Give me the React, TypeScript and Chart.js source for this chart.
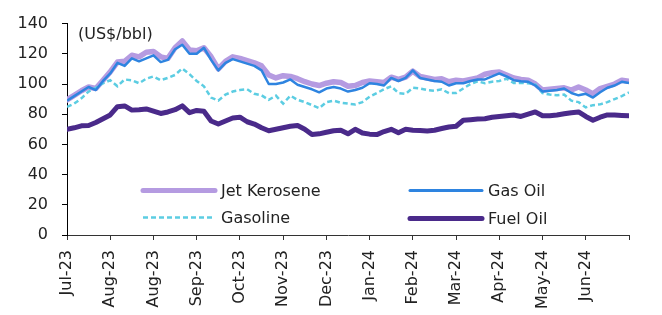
import React, { useEffect, useRef } from "react";
import { Chart, registerables } from "chart.js";

Chart.register(...registerables);

const TICK_LABELS = [
  "Jul-23", "Aug-23", "Aug-23", "Sep-23", "Oct-23", "Nov-23", "Dec-23",
  "Jan-24", "Feb-24", "Mar-24", "Apr-24", "May-24", "Jun-24", "",
];
const POINTS_PER_TICK = 6;

const JET_KEROSENE = [
  89.5, 92.5, 95.5, 98, 97, 102.5, 108, 114.5, 115, 119, 118, 121, 121.5, 118, 117, 124, 128.5, 122.5, 122, 124,
  118, 110, 115, 118, 117, 115.5, 114, 112, 106, 104, 105.5, 105, 103.5, 101.5, 100, 99, 100.5, 101.5, 101, 98.5,
  99, 101, 102, 101.5, 101, 104.5, 103, 104.5, 108.5, 105, 104, 103, 103.5, 101.5, 102.5, 102, 103, 104, 106.5, 107.5,
  108, 106, 104, 103, 102.5, 100, 96, 96.5, 97, 97.5, 96, 98, 96, 93.5, 97, 98.5, 100, 102.5, 101.8,
];
const GAS_OIL = [
  89, 92, 95, 98, 96, 102, 107, 114, 112, 117, 115, 117, 119, 114.5, 116, 123, 126, 120, 120, 124,
  116, 109, 114, 116.5, 115, 113.5, 112, 109, 100, 100, 101, 103, 99.5, 98, 96.5, 94.5, 97, 98, 97, 95,
  96, 97.5, 100.5, 100, 99, 104, 102, 104, 109, 104, 103, 102, 101.5, 99, 100.5, 100.5, 102, 103, 103, 105,
  107, 105, 102.5, 101.8, 101.5, 99, 95, 95.5, 96, 97, 94, 92.5, 93.5, 91, 94.5, 97.5, 99, 101.5, 100.7,
];
const GASOLINE = [
  84.8, 87, 90.5, 95, 97.5, 100.5, 102.5, 98.5, 103, 102.5, 100.5, 103.5, 105, 102.5, 104, 106, 110.3, 106.5, 102, 98.5,
  91, 89, 93, 95, 96, 96.5, 93.5, 92.5, 89.5, 92.3, 87, 92.3, 89.5, 88, 86, 84, 88, 89, 87.6, 87,
  86.5, 88, 91.5, 94, 96.5, 98.5, 94, 93.5, 97.5, 97, 96, 95.5, 96.5, 94, 94, 97, 100, 101.8, 100.5, 101.5,
  102, 103.5, 100.7, 100.7, 100.5, 99.7, 94, 93, 92.5, 93, 89, 88, 84.5, 86, 86.5, 88, 90, 92, 94.4,
];
const FUEL_OIL = [
  70, 71, 72.3, 72.5, 74.5, 77, 79.5, 85, 85.5, 82.7, 83, 83.5, 82, 80.5, 81.5, 83, 85.5, 81, 82.5, 82,
  75.5, 73.5, 75.5, 77.5, 78, 75, 73.5, 71, 69, 70, 71, 72, 72.5, 70, 66.5, 67, 68, 69, 69.4, 67,
  70, 67.5, 66.8, 66.5, 68.5, 70, 67.7, 70, 69.4, 69.2, 68.9, 69.4, 70.5, 71.5, 72, 76, 76.4, 76.8, 77, 78,
  78.5, 79, 79.5, 78.5, 80, 81.5, 79, 79, 79.5, 80.3, 81, 81.5, 78.5, 76, 78, 79.5, 79.5, 79.2, 79,
];

const JET_COLOR = "#b59be1";
const GASOIL_COLOR = "#2e84e0";
const GASOLINE_COLOR = "#5ccde2";
const FUEL_COLOR = "#4a2a8a";
const FONT_FAMILY = '"DejaVu Sans", sans-serif';
const TEXT_COLOR = "#222";

const toXY = (arr: number[]) => arr.map((y, i) => ({ x: i, y }));

const overlayPlugin = {
  id: "overlay",
  afterDraw(chart: any) {
    const { ctx, chartArea } = chart;
    const L = chartArea.left;
    const T = chartArea.top;
    ctx.save();
    ctx.font = `16px ${FONT_FAMILY}`;
    ctx.fillStyle = TEXT_COLOR;
    ctx.textBaseline = "middle";
    ctx.textAlign = "left";
    ctx.fillText("(US$/bbl)", L + 11, T + 11);

    const items = [
      { label: "Jet Kerosene", color: JET_COLOR, width: 5, dash: [] as number[], x: 76, y: 167 },
      { label: "Gasoline", color: GASOLINE_COLOR, width: 2.5, dash: [5, 3], x: 76, y: 194 },
      { label: "Gas Oil", color: GASOIL_COLOR, width: 3, dash: [] as number[], x: 343, y: 167 },
      { label: "Fuel Oil", color: FUEL_COLOR, width: 5, dash: [] as number[], x: 343, y: 195 },
    ];
    for (const it of items) {
      ctx.beginPath();
      ctx.setLineDash(it.dash);
      ctx.lineCap = it.dash.length ? "butt" : "round";
      ctx.strokeStyle = it.color;
      ctx.lineWidth = it.width;
      ctx.moveTo(L + it.x, T + it.y);
      ctx.lineTo(L + it.x + 72, T + it.y);
      ctx.stroke();
      ctx.setLineDash([]);
      ctx.fillStyle = TEXT_COLOR;
      ctx.fillText(it.label, L + it.x + 78, T + it.y + 1);
    }
    ctx.restore();
  },
};

export default function App() {
  const ref = useRef<HTMLCanvasElement | null>(null);
  useEffect(() => {
    document.body.style.margin = "0";
    const canvas = ref.current;
    if (!canvas) return;
    const maxX = (TICK_LABELS.length - 1) * POINTS_PER_TICK;
    const chart = new Chart(canvas, {
      type: "line",
      data: {
        datasets: [
          {
            label: "Gas Oil",
            data: toXY(GAS_OIL),
            borderColor: GASOIL_COLOR,
            borderWidth: 2.5,
            pointRadius: 0,
            tension: 0,
            order: 0,
            borderJoinStyle: "round",
          },
          {
            label: "Fuel Oil",
            data: toXY(FUEL_OIL),
            borderColor: FUEL_COLOR,
            borderWidth: 5,
            pointRadius: 0,
            tension: 0,
            order: 1,
            borderJoinStyle: "round",
            borderCapStyle: "round",
          },
          {
            label: "Gasoline",
            data: toXY(GASOLINE),
            borderColor: GASOLINE_COLOR,
            borderWidth: 2.5,
            borderDash: [5, 3],
            pointRadius: 0,
            tension: 0,
            order: 2,
          },
          {
            label: "Jet Kerosene",
            data: toXY(JET_KEROSENE),
            borderColor: JET_COLOR,
            borderWidth: 5.5,
            pointRadius: 0,
            tension: 0,
            order: 3,
            borderJoinStyle: "round",
            borderCapStyle: "round",
          },
        ],
      },
      options: {
        responsive: false,
        animation: false,
        devicePixelRatio: 1,
        layout: { padding: { left: 0, right: 33, top: 15, bottom: 0 } },
        plugins: { legend: { display: false }, tooltip: { enabled: false } },
        scales: {
          x: {
            type: "linear",
            min: 0,
            max: maxX,
            afterFit: (scale: any) => {
              scale.height = 80;
            },
            ticks: {
              stepSize: POINTS_PER_TICK,
              autoSkip: false,
              minRotation: 90,
              maxRotation: 90,
              padding: 10,
              color: TEXT_COLOR,
              font: { family: FONT_FAMILY, size: 16 },
              callback: (v: any) => {
                const idx = Math.round(Number(v) / POINTS_PER_TICK);
                return TICK_LABELS[idx] ?? "";
              },
            },
            grid: { drawOnChartArea: false, drawTicks: true, tickLength: 5, color: "#333" },
            border: { display: true, color: "#333", width: 1 },
          },
          y: {
            min: 0,
            max: 140,
            afterFit: (scale: any) => {
              scale.width = 67;
            },
            ticks: {
              stepSize: 20,
              padding: 14,
              color: TEXT_COLOR,
              font: { family: FONT_FAMILY, size: 16 },
            },
            grid: { drawOnChartArea: false, drawTicks: true, tickLength: 5, color: "#000" },
            border: { display: true, color: "#000", width: 1 },
          },
        },
      },
      plugins: [overlayPlugin],
    } as any);
    return () => chart.destroy();
  }, []);
  return (
    <div style={{ position: "fixed", left: 0, top: 0, width: 662, height: 315, background: "#fff" }}>
      <canvas ref={ref} width={662} height={315} style={{ width: 662, height: 315 }} />
    </div>
  );
}
